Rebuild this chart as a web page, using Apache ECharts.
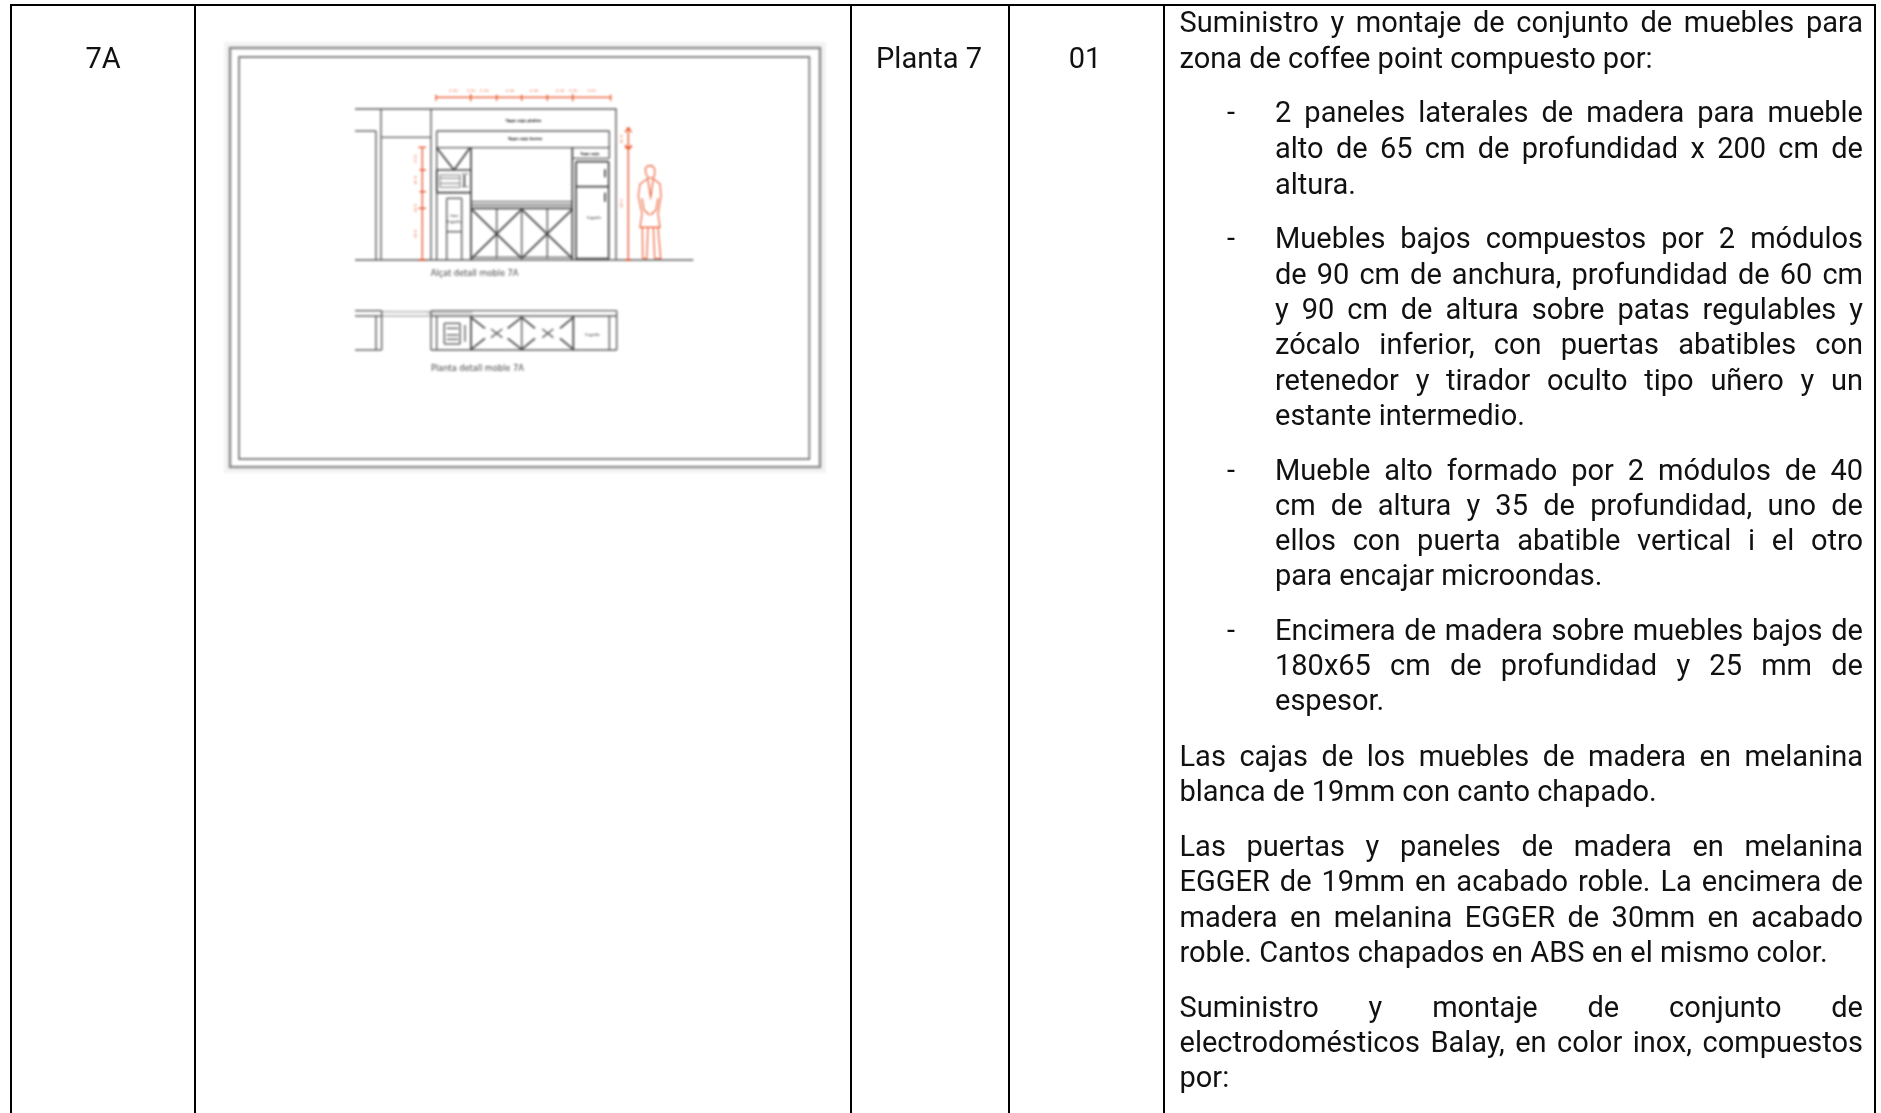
<!DOCTYPE html>
<html><head><meta charset="utf-8">
<style>html,body{margin:0;padding:0;background:#fff;overflow:hidden}
#table{position:absolute;left:0;top:0;width:1881px;height:1113px}
#sheet{position:absolute;left:218px;top:36px;width:620px;height:446px;filter:blur(0.8px)}
</style>
<script src="https://cdn.jsdelivr.net/npm/echarts@6/dist/echarts.min.js"></script>
</head><body><div id="table"></div><div id="sheet"></div>
<script>
// ---- table content ----
const cellTexts = ['7A', 'Planta 7', '01'];
const cellCentres = [103, 929, 1085];
const columnRules = [11, 195, 851, 1009, 1164, 1875];
const bodyLines = [
 ['Suministro y montaje de conjunto de muebles para',1,0],
 ['zona de coffee point compuesto por:',0,0],
 ['2 paneles laterales de madera para mueble',1,1],
 ['alto de 65 cm de profundidad x 200 cm de',1,1],
 ['altura.',0,1],
 ['Muebles bajos compuestos por 2 módulos',1,1],
 ['de 90 cm de anchura, profundidad de 60 cm',1,1],
 ['y 90 cm de altura sobre patas regulables y',1,1],
 ['zócalo inferior, con puertas abatibles con',1,1],
 ['retenedor y tirador oculto tipo uñero y un',1,1],
 ['estante intermedio.',0,1],
 ['Mueble alto formado por 2 módulos de 40',1,1],
 ['cm de altura y 35 de profundidad, uno de',1,1],
 ['ellos con puerta abatible vertical i el otro',1,1],
 ['para encajar microondas.',0,1],
 ['Encimera de madera sobre muebles bajos de',1,1],
 ['180x65 cm de profundidad y 25 mm de',1,1],
 ['espesor.',0,1],
 ['Las cajas de los muebles de madera en melanina',1,0],
 ['blanca de 19mm con canto chapado.',0,0],
 ['Las puertas y paneles de madera en melanina',1,0],
 ['EGGER de 19mm en acabado roble. La encimera de',1,0],
 ['madera en melanina EGGER de 30mm en acabado',1,0],
 ['roble. Cantos chapados en ABS en el mismo color.',0,0],
 ['Suministro y montaje de conjunto de',1,0],
 ['electrodomésticos Balay, en color inox, compuestos',1,0],
 ['por:',0,0]
];
const bodyBaselines = [32.3,68.3,122.7,158.3,194.3,248.5,284,319,354.5,390,425,480.7,515.7,550.7,585.7,640.7,675.7,710.7,766.7,801.7,856.7,891.7,927.3,962.3,1017.3,1052.5,1087.5];
const dashRows = [2,5,11,15];

// ---- sheet drawing, in units of a third of a pixel ----
const sheetHalo = [[-318,-84,1488,1209]];
const sheetFrames = [[-300,-66,1470,1191,'#909090',2.6],[-273,-39,1438,1167,'#858585',1.9]];
const wallLines = [
 [75,117,860,117],[153,117,153,570],[303,117,303,570],[858,117,858,570],
 [75,183,138,183],[138,183,138,570],[153,202,303,202],[75,570,1090,570],
 [320,183,838,183],[320,183,320,570],[838,183,838,265],[320,233,838,233],
 [425,395,727,395],[425,405,727,405],[727,265,838,265],
 [500,415,500,565],[652,415,652,565],[575,415,575,565],
 [350,385,395,385],[350,385,350,570],[395,385,395,570],[350,485,395,485],
 [425,562,727,562],
 // plan
 [75,722,155,722],[75,738,155,738],[155,722,155,840],[138,738,138,840],[75,840,155,840],
 [303,722,860,722],[303,738,860,738],[303,722,303,840],[860,722,860,840],[838,738,838,840],
 [320,738,320,840],[303,840,860,840],[575,738,575,840],
 [343,760,390,760],[343,822,390,822],[343,760,343,822],[390,760,390,822],
 [350,775,385,775],[350,795,385,795],[350,808,385,808],[405,765,405,815],
 [483,777,517,803],[517,777,483,803],[637,777,670,803],[670,777,637,803]
];
const paleLines = [[155,725,300,725],[155,738,300,738],[292,728,428,728]];
const heavyLines = [
 [320,233,372,300],[420,233,372,300],[423,233,423,570],[320,300,423,300],[320,368,423,368],
 [425,415,727,415],[425,418,575,565],[575,418,425,565],[575,418,727,565],[727,418,575,565],
 [727,233,727,570],[738,275,836,275],[738,275,738,568],[836,275,836,568],[738,350,836,350],[738,566,836,566],
 [825,298,825,322],[825,368,825,395],[320,300,320,365],[403,315,403,350],
 [423,738,423,840],[730,738,730,840],
 [423,742,465,775],[575,742,533,775],[423,838,465,805],[575,838,533,805],
 [575,742,615,775],[730,742,690,775],[575,838,615,805],[730,838,690,805]
];
const ovenLines = [[330,315,390,315],[330,325,390,325],[330,340,390,340],[330,352,390,352],[330,315,330,352],[390,315,390,352],[395,312,415,312],[395,350,415,350]];
const redLines = [
 [318,82,842,82],[318,74,318,92],[422,72,422,94],[500,74,500,92],[575,74,575,92],[652,74,652,92],[728,72,728,94],[842,74,842,92],
 [277,232,277,570],[265,232,288,232],[268,300,288,300],[268,365,288,365],[265,415,288,415],[265,570,288,570],
 [895,175,895,570],[885,187,895,172],[905,187,895,172],[885,233,905,233],[885,570,905,570],[885,225,895,238],[905,225,895,238]
];
const personPaths = [
 [[948,312],[946,296],[952,288],[966,287],[974,296],[974,316],[968,324],[955,324],[948,312]],
 [[953,326],[930,342],[925,378],[936,432],[930,472],[990,472],[984,432],[993,378],[990,342],[970,326]],
 [[953,326],[962,382],[970,326]],[[936,385],[942,420],[958,435]],[[984,385],[978,420],[962,435]],
 [[937,472],[938,565],[950,566],[954,472]],[[970,472],[974,565],[992,566],[984,472]]
];
const sheetNotes = [
 ['Tapa caja plafón',580,152,3.9,'bold',0],['Tapa caja horno',585,208,3.9,'bold',0],['Tapa caja',779,253,3.6,'bold',0],
 ['Frigorífic',792,445,3.4,'normal',0],['Horn',373,438,3.4,'normal',0],['Frigorífic',372,455,3.4,'normal',0],['Frigorífic',788,795,3.4,'normal',0]
];
const redNotes = [
 ['0.30',370,62,0],['0.05',424,62,0],['0.30',463,62,0],['0.30',540,62,0],['0.30',612,62,0],['0.30',690,62,0],['0.05',730,62,0],['0.30',785,62,0],
 ['0.45',255,266,-90],['0.40',255,330,-90],['0.05',255,415,-90],['0.85',255,492,-90],['0.30',874,207,-90],['2.00',874,400,-90]
];
const sheetCaptions = [['Alçat detall moble 7A',302,612],['Planta detall moble 7A',303,898]];

// ---- table chart ----
const FONT = '29px Roboto';
const probe = document.createElement('canvas').getContext('2d');
probe.font = FONT;
const LEFT = 1179.5, RIGHT = 1863, INDENT = 1275, DASH = 1227, MID = 7.7;
function wordsOf(i){
  const [t,just,ind] = bodyLines[i];
  const x0 = ind ? INDENT : LEFT;
  const words = t.split(' ');
  const w = words.map(s=>probe.measureText(s).width);
  const sum = w.reduce((a,b)=>a+b,0);
  const sp = just && words.length>1 ? (RIGHT-x0-sum)/(words.length-1) : probe.measureText(' ').width;
  let x = x0; const out=[];
  words.forEach((s,k)=>{out.push([x,bodyBaselines[i],s]); x+=w[k]+sp;});
  return out;
}
const wordData = [];
bodyLines.forEach((l,i)=>wordsOf(i).forEach(d=>wordData.push(d)));
dashRows.forEach(r=>wordData.push([DASH,bodyBaselines[r],'-']));
const textSeries = {type:'custom',silent:true,animation:false,clip:false,encode:{x:0,y:1},data:wordData,
  renderItem(p,api){const c=api.coord([api.value(0),api.value(1)]);
    return {type:'text',style:{text:wordData[p.dataIndex][2],x:c[0],y:c[1]-MID,font:FONT,fill:'#111',align:'left',verticalAlign:'middle'}};}};
const cellData = cellTexts.map((t,i)=>[cellCentres[i],68,t]);
const cellSeries = {type:'custom',silent:true,animation:false,clip:false,encode:{x:0,y:1},data:cellData,
  renderItem(p,api){const c=api.coord([api.value(0),api.value(1)]);
    return {type:'text',style:{text:cellData[p.dataIndex][2],x:c[0],y:c[1]-MID,font:FONT,fill:'#111',align:'center',verticalAlign:'middle'}};}};
const ruleData = columnRules.map(x=>[x,5,x,1113]).concat([[10,5,1876,5]]);
function segRender(arr,color,width){return function(p,api){
  const a=api.coord([arr[p.dataIndex][0],arr[p.dataIndex][1]]),b=api.coord([arr[p.dataIndex][2],arr[p.dataIndex][3]]);
  return {type:'line',shape:{x1:a[0],y1:a[1],x2:b[0],y2:b[1]},style:{stroke:color,lineWidth:width,fill:null}};};}
function segSeries(arr,color,width){return {type:'custom',silent:true,animation:false,clip:false,encode:{x:0,y:1},data:arr,renderItem:segRender(arr,color,width)};}
const table = echarts.init(document.getElementById('table'),null,{renderer:'canvas'});
table.setOption({animation:false,backgroundColor:'#fff',
  grid:{left:0,right:0,top:0,bottom:0},
  xAxis:{type:'value',min:0,max:1881,show:false},
  yAxis:{type:'value',min:0,max:1113,inverse:true,show:false},
  series:[segSeries(ruleData,'#000',2),textSeries,cellSeries]});

// ---- sheet chart ----
const sheet = echarts.init(document.getElementById('sheet'),null,{renderer:'canvas'});
function haloSeries(){return {type:'custom',silent:true,animation:false,clip:false,encode:{x:0,y:1},data:sheetHalo,
  renderItem(p,api){const f=sheetHalo[p.dataIndex];const a=api.coord([f[0],f[1]]),b=api.coord([f[2],f[3]]);
    return {type:'rect',shape:{x:a[0],y:a[1],width:b[0]-a[0],height:b[1]-a[1]},style:{fill:'#f3f3f3',stroke:null}};}};}
function frameSeries(){return {type:'custom',silent:true,animation:false,clip:false,encode:{x:0,y:1},data:sheetFrames,
  renderItem(p,api){const f=sheetFrames[p.dataIndex];const a=api.coord([f[0],f[1]]),b=api.coord([f[2],f[3]]);
    return {type:'rect',shape:{x:a[0],y:a[1],width:b[0]-a[0],height:b[1]-a[1]},style:{fill:'#fff',stroke:f[4],lineWidth:f[5]}};}};}
function pathSeries(){return {type:'custom',silent:true,animation:false,clip:false,encode:{x:0,y:1},data:personPaths.map(q=>q[0]),
  renderItem(p,api){const pts=personPaths[p.dataIndex].map(q=>api.coord(q));
    return {type:'polyline',shape:{points:pts},style:{fill:null,stroke:'#ec5226',lineWidth:1.1}};}};}
function noteSeries(arr,color){return {type:'custom',silent:true,animation:false,clip:false,encode:{x:0,y:1},data:arr.map(n=>[n[1],n[2]]),
  renderItem(p,api){const n=arr[p.dataIndex];const c=api.coord([n[1],n[2]]);
    return {type:'text',x:c[0],y:c[1],rotation:(n[5]!==undefined?n[5]:n[3]||0)*Math.PI/180,
      style:{text:n[0],x:0,y:0,font:(n[4]||'normal')+' '+(n.length>4?n[3]:3.8)+'px "DejaVu Sans"',fill:color,align:'center',verticalAlign:'middle'}};}};}
const capSeries = {type:'custom',silent:true,animation:false,clip:false,encode:{x:0,y:1},data:sheetCaptions.map(n=>[n[1],n[2]]),
  renderItem(p,api){const n=sheetCaptions[p.dataIndex];const c=api.coord([n[1],n[2]]);
    return {type:'text',style:{text:n[0],x:c[0],y:c[1],font:'8.2px "DejaVu Sans"',fill:'#444',align:'left',verticalAlign:'middle'}};}};
sheet.setOption({animation:false,backgroundColor:'transparent',
  grid:{left:0,right:0,top:0,bottom:0},
  xAxis:{type:'value',min:-336,max:1524,show:false},
  yAxis:{type:'value',min:-102,max:1236,inverse:true,show:false},
  series:[haloSeries(),frameSeries(),segSeries(paleLines,'#c4c4c4',2),segSeries(wallLines,'#5e5e5e',1.4),segSeries(ovenLines,'#808080',1.1),
    segSeries(heavyLines,'#444',1.7),segSeries(redLines,'#e84c20',1.25),pathSeries(),
    noteSeries(sheetNotes,'#111'),noteSeries(redNotes,'#ee7a56'),capSeries]});
</script></body></html>
